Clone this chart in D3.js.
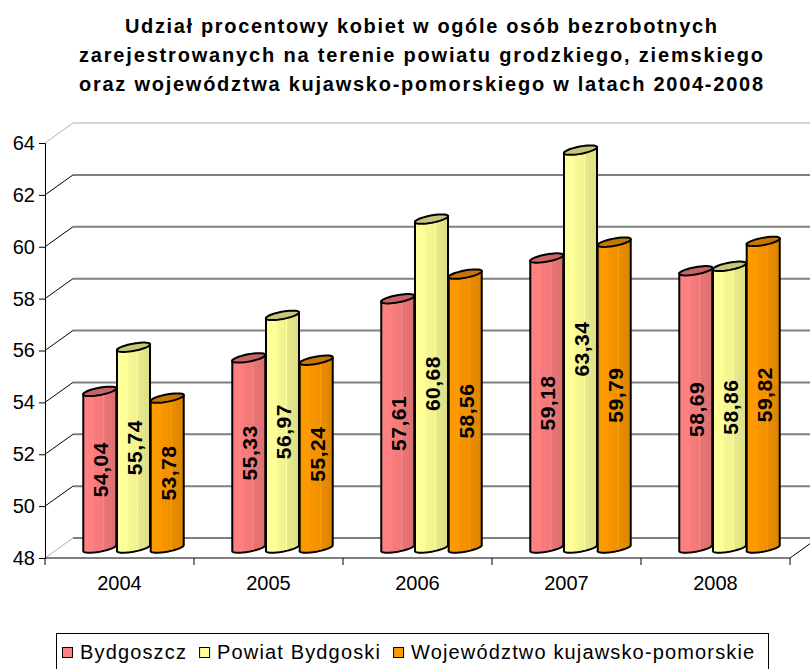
<!DOCTYPE html>
<html><head><meta charset="utf-8">
<script src="https://cdn.jsdelivr.net/npm/d3@7"></script>
<style>
html,body{margin:0;padding:0;background:#fff;}
svg{display:block;}
svg text{font-family:"Liberation Sans",Arial,Helvetica,sans-serif;}
</style></head>
<body><svg id="c" width="810" height="669"></svg>
<script>
const categories = ["2004","2005","2006","2007","2008"];
const seriesNames = ["Bydgoszcz","Powiat Bydgoski","Województwo kujawsko-pomorskie"];
const bydgoszcz = [54.04,55.33,57.61,59.18,58.69];
const powiat = [55.74,56.97,60.68,63.34,58.86];
const wojewodztwo = [53.78,55.24,58.56,59.79,59.82];
const yTicks = [48,50,52,54,56,58,60,62,64];
const titleLines = [
  "Udział procentowy kobiet w ogóle osób bezrobotnych",
  "zarejestrowanych na terenie powiatu grodzkiego, ziemskiego",
  "oraz województwa kujawsko-pomorskiego w latach 2004-2008"
];
const colors = ["#FF8080","#FFFF99","#FF9900"];
const seriesValues = [bydgoszcz, powiat, wojewodztwo];
const FONT = "Liberation Sans, Arial, Helvetica, sans-serif";

const svg = d3.select("#c");
const defs = svg.append("defs");
const DX = 28, DY = -20;
const x0 = d3.scaleBand().domain(categories).range([45,790]).padding(0);
const x1 = d3.scaleBand().domain(d3.range(3)).range([0,x0.bandwidth()]).paddingInner(0.02).paddingOuter(0.72);
const y = d3.scaleLinear().domain([48,64]).range([558,143]);

// Title
const titleW = [592,684,684];
svg.append("g").selectAll("text").data(titleLines).join("text")
  .attr("x",421).attr("y",(d,i)=>33+i*29)
  .attr("text-anchor","middle").attr("font-size",20).attr("font-weight","bold")
  .attr("font-family",FONT)
  .attr("textLength",(d,i)=>titleW[i]).attr("lengthAdjust","spacing")
  .text(d=>d);

// back wall gridlines
const grid = svg.append("g");
grid.selectAll("line.g").data(yTicks).join("line")
  .attr("x1",45+DX).attr("x2",830).attr("y1",d=>y(d)+DY).attr("y2",d=>y(d)+DY)
  .attr("stroke",d=>d===64?"#c8c8c8":"#808080").attr("stroke-width",d=>d===64?1.5:2);
// side wall diagonals
grid.selectAll("line.s").data(yTicks).join("line")
  .attr("x1",45).attr("y1",d=>y(d)).attr("x2",45+DX).attr("y2",d=>y(d)+DY)
  .attr("stroke",d=>(d===64||d===48)?"#b0b0b0":"#000").attr("stroke-width",1);
// floor right diagonal
svg.append("line").attr("x1",790).attr("y1",y(48)).attr("x2",790+DX).attr("y2",y(48)+DY)
  .attr("stroke","#000").attr("stroke-width",1);

// Axes
const yAxis = svg.append("g").attr("transform","translate(45,0)")
  .call(d3.axisLeft(y).tickValues(yTicks).tickSize(6).tickPadding(4).tickFormat(d3.format("d")));
yAxis.attr("font-family",FONT);
yAxis.select(".domain").attr("stroke","#000");
yAxis.selectAll("text").attr("font-size",20).attr("fill","#000");
const xAxis = svg.append("g").attr("transform",`translate(0,${y(48)})`)
  .call(d3.axisBottom(x0).tickSize(0).tickPadding(18));
xAxis.attr("font-family",FONT);
xAxis.select(".domain").attr("stroke","#000").attr("d","M45,0H790");
xAxis.selectAll("text").attr("font-size",20).attr("fill","#000");
svg.append("g").selectAll("line").data(d3.range(categories.length+1)).join("line")
  .attr("x1",i=>45+i*x0.step()).attr("x2",i=>45+i*x0.step())
  .attr("y1",y(48)).attr("y2",y(48)+7).attr("stroke","#000");

// gradients
colors.forEach((c,j)=>{
  const g = defs.append("linearGradient").attr("id","g"+j).attr("x1","0").attr("x2","1").attr("y1","0").attr("y2","0");
  const base = d3.color(c);
  const stops = [[0,base],[0.3,base],[0.36,base.darker(0.1)],[0.6,base.darker(0.15)],[0.62,base.brighter(0.2)],[0.65,base.darker(0.25)],[1,base.darker(0.4)]];
  stops.forEach(s=>g.append("stop").attr("offset",s[0]).attr("stop-color",s[1].formatHex()));
});

// bars
const bars = [];
categories.forEach((cat,i)=>{
  seriesValues.forEach((vals,j)=>{
    bars.push({cat,j,v:vals[i]});
  });
});
const uy = -2.5, vx = 2, vy = -4;
function ellipsePts(cx,cy,r,a0,a1,n){
  const pts=[];
  for(let k=0;k<=n;k++){
    const t=a0+(a1-a0)*k/n;
    pts.push([cx+r*Math.cos(t)+vx*Math.sin(t), cy+uy*Math.cos(t)+vy*Math.sin(t)]);
  }
  return pts;
}
const barG = svg.append("g");
const fmt = d3.format(".2f");
bars.forEach(b=>{
  const bw = x1.bandwidth();
  const r = bw/2;
  const cx = x0(b.cat)+x1(b.j)+bw/2+DX/2;
  const yt = y(b.v)+DY/2, yb = y(48)+DY/2;
  const bottomFront = ellipsePts(cx,yb,r,Math.PI,2*Math.PI,30);
  const body = [[cx-r,yt-uy]].concat(bottomFront).concat([[cx+r,yt+uy]]);
  barG.append("path").attr("d",d3.line()(body)+"Z")
    .attr("fill",`url(#g${b.j})`).attr("stroke","#000").attr("stroke-width",2).attr("stroke-linejoin","round");
  const top = ellipsePts(cx,yt,r,0,2*Math.PI,40);
  barG.append("path").attr("d",d3.line()(top)+"Z")
    .attr("fill",d3.color(colors[b.j]).darker(0.7).formatHex()).attr("stroke","#000").attr("stroke-width",2);
  barG.append("text").attr("transform",`translate(${cx+1},${(yt+yb)/2}) rotate(-90)`)
    .attr("text-anchor","middle").attr("dy","0.36em").attr("font-size",21).attr("font-weight","bold")
    .attr("font-family",FONT).attr("letter-spacing","0.5px")
    .text(fmt(b.v).replace(".",","));
});

// legend
const lg = svg.append("g");
lg.append("rect").attr("x",56.5).attr("y",633.5).attr("width",712).attr("height",36)
  .attr("fill","#fff").attr("stroke","#000");
let lx = 62;
seriesNames.forEach((n,j)=>{
  lg.append("rect").attr("x",lx+0.5).attr("y",647.5).attr("width",10).attr("height",10)
    .attr("fill",colors[j]).attr("stroke","#000");
  const t = lg.append("text").attr("x",lx+18).attr("y",659).attr("font-size",20)
    .attr("font-family",FONT).attr("letter-spacing","1.15px").text(n);
  lx += 18 + t.node().getComputedTextLength() + 12;
});
</script></body></html>
